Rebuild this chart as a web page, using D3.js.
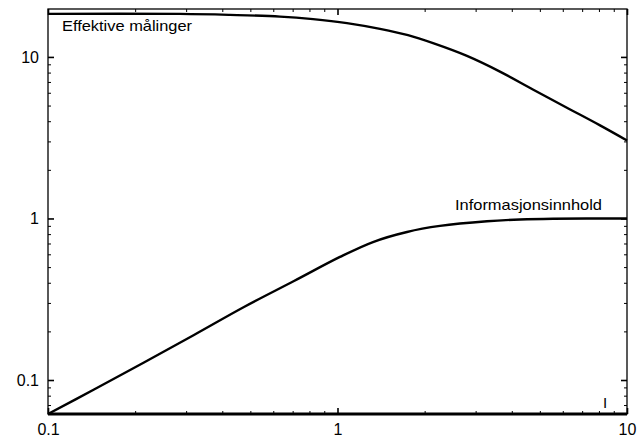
<!DOCTYPE html>
<html>
<head>
<meta charset="utf-8">
<script src="https://cdn.jsdelivr.net/npm/d3@7"></script>
<style>
  body { margin: 0; background: #fff; }
  svg { display: block; font-family: "Liberation Sans", Arial, Helvetica, sans-serif; }
</style>
</head>
<body>
<svg id="chart"></svg>
<script>
const width = 638;
const height = 440;
const margin = { top: 9, right: 11, bottom: 26, left: 48 };

// upper curve: "Effektive målinger"
const xUpper = [0.1, 0.286, 0.425, 0.633, 0.823, 1.078, 1.402, 1.752, 2.138, 2.80, 3.64, 4.73, 6.20, 8.07, 10];
const upper = [18.46, 18.46, 18.2, 17.77, 17.14, 16.19, 14.91, 13.63, 12.16, 10.14, 8.11, 6.29, 4.85, 3.77, 3.04];

// lower curve: "Informasjonsinnhold"
const xLower = [0.1, 0.1442, 0.2145, 0.3193, 0.4753, 0.7074, 1.02, 1.326, 1.738, 2.259, 3.284, 4.27, 5.55, 10];
const lower = [0.0616, 0.0873, 0.1284, 0.190, 0.2831, 0.410, 0.578, 0.715, 0.825, 0.899, 0.961, 0.986, 0.997, 1.0];

const majorTicks = [0.1, 1, 10];
const tickLabels = ["0.1", "1", "10"];
const seriesLabels = ["Effektive målinger", "Informasjonsinnhold"];

const svg = d3.select("svg#chart")
  .attr("width", width)
  .attr("height", height);

const xScale = d3.scaleLog()
  .domain([0.1, 10])
  .range([margin.left, width - margin.right]);

const yScale = d3.scaleLog()
  .domain([0.0616, 19.8])
  .range([height - margin.bottom, margin.top]);

// minor ticks 2..9 in each decade
function minorTicks(scale) {
  let [lo, hi] = scale.domain();
  let out = [];
  for (let e = -2; e <= 1; e++) {
    for (let m = 2; m <= 9; m++) {
      let v = m * Math.pow(10, e);
      if (v > lo * 1.0001 && v < hi * 0.9999) out.push(v);
    }
  }
  return out;
}

const fmt = d => tickLabels[majorTicks.indexOf(d)];
const x0 = margin.left, x1 = width - margin.right;
const y0 = height - margin.bottom, y1 = margin.top;

function styleAxis(g, w) {
  g.select(".domain").remove();
  g.selectAll(".tick line").attr("stroke", "#000").attr("stroke-width", w);
  g.selectAll(".tick text").attr("fill", "#000").attr("font-size", 16);
}

// bottom / top
svg.append("g").attr("transform", "translate(0," + y0 + ")")
  .call(d3.axisBottom(xScale).tickValues(majorTicks).tickFormat(fmt).tickSize(-6).tickSizeOuter(0).tickPadding(10))
  .call(g => styleAxis(g, 1.6));
svg.append("g").attr("transform", "translate(0," + y0 + ")")
  .call(d3.axisBottom(xScale).tickValues(minorTicks(xScale)).tickFormat("").tickSize(-3).tickSizeOuter(0))
  .call(g => styleAxis(g, 1));
svg.append("g").attr("transform", "translate(0," + y1 + ")")
  .call(d3.axisTop(xScale).tickValues(majorTicks).tickFormat("").tickSize(-6).tickSizeOuter(0))
  .call(g => styleAxis(g, 1.6));
svg.append("g").attr("transform", "translate(0," + y1 + ")")
  .call(d3.axisTop(xScale).tickValues(minorTicks(xScale)).tickFormat("").tickSize(-3).tickSizeOuter(0))
  .call(g => styleAxis(g, 1));

// left / right
svg.append("g").attr("transform", "translate(" + x0 + ",0)")
  .call(d3.axisLeft(yScale).tickValues(majorTicks).tickFormat(fmt).tickSize(-6).tickSizeOuter(0).tickPadding(9))
  .call(g => styleAxis(g, 1.6));
svg.append("g").attr("transform", "translate(" + x0 + ",0)")
  .call(d3.axisLeft(yScale).tickValues(minorTicks(yScale)).tickFormat("").tickSize(-3).tickSizeOuter(0))
  .call(g => styleAxis(g, 1));
svg.append("g").attr("transform", "translate(" + x1 + ",0)")
  .call(d3.axisRight(yScale).tickValues(majorTicks).tickFormat("").tickSize(-6).tickSizeOuter(0))
  .call(g => styleAxis(g, 1.6));
svg.append("g").attr("transform", "translate(" + x1 + ",0)")
  .call(d3.axisRight(yScale).tickValues(minorTicks(yScale)).tickFormat("").tickSize(-3).tickSizeOuter(0))
  .call(g => styleAxis(g, 1));

// frame
svg.append("rect")
  .attr("x", x0).attr("y", y1)
  .attr("width", x1 - x0).attr("height", y0 - y1)
  .attr("fill", "none").attr("stroke", "#000").attr("stroke-width", 1.3);
svg.append("line")
  .attr("x1", x0).attr("x2", x1).attr("y1", y0).attr("y2", y0)
  .attr("stroke", "#000").attr("stroke-width", 3);

const line = d3.line()
  .x(d => xScale(d[0]))
  .y(d => yScale(d[1]))
  .curve(d3.curveCatmullRom.alpha(0.5));

svg.append("path")
  .datum(xUpper.map((d, i) => [d, upper[i]]))
  .attr("d", line)
  .attr("fill", "none").attr("stroke", "#000").attr("stroke-width", 2.4);

svg.append("path")
  .datum(xLower.map((d, i) => [d, lower[i]]))
  .attr("d", line)
  .attr("fill", "none").attr("stroke", "#000").attr("stroke-width", 2.4);

svg.append("text")
  .attr("x", 62).attr("y", 31)
  .attr("font-size", 14.5)
  .attr("textLength", 130).attr("lengthAdjust", "spacingAndGlyphs")
  .text(seriesLabels[0]);

svg.append("text")
  .attr("x", 455).attr("y", 210)
  .attr("font-size", 14.5)
  .attr("textLength", 147).attr("lengthAdjust", "spacingAndGlyphs")
  .text(seriesLabels[1]);

svg.append("text")
  .attr("x", 605).attr("y", 408)
  .attr("text-anchor", "middle")
  .attr("font-size", 15)
  .text("I");
</script>
</body>
</html>
